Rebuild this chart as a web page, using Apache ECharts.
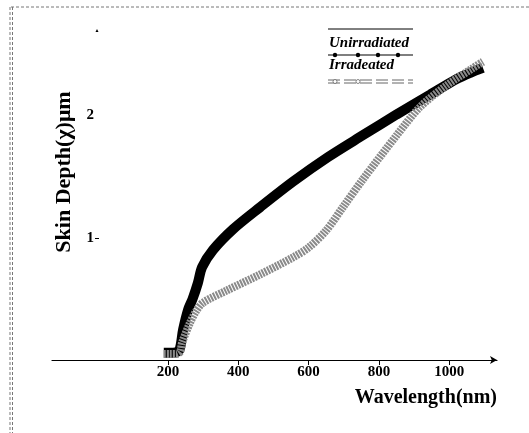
<!DOCTYPE html>
<html>
<head>
<meta charset="utf-8">
<script src="https://cdn.jsdelivr.net/npm/echarts@6/dist/echarts.min.js"></script>
<style>html,body{margin:0;padding:0;background:#fff;}#c{width:529px;height:433px;}</style>
</head>
<body>
<div id="c"></div>
<script>
// Data
const xTicks = [200, 400, 600, 800, 1000];
const yTicks = [1, 2];
const unirradiatedX = [188, 200, 215, 232, 243, 257, 270, 285, 297, 328, 385, 462, 556, 655, 755, 851, 945, 1022, 1060, 1096];
const unirradiatedY = [0.06, 0.06, 0.06, 0.08, 0.25, 0.41, 0.50, 0.63, 0.76, 0.90, 1.07, 1.25, 1.46, 1.66, 1.84, 2.01, 2.17, 2.30, 2.35, 2.39];
const irradiatedX = [188, 205, 225, 235, 240, 262, 280, 300, 368, 462, 556, 600, 650, 700, 755, 851, 917, 994, 1068, 1096];
const irradiatedY = [0.05, 0.05, 0.05, 0.07, 0.14, 0.30, 0.40, 0.47, 0.57, 0.70, 0.84, 0.92, 1.06, 1.26, 1.48, 1.84, 2.07, 2.25, 2.39, 2.44];
const seriesNames = ['Unirradiated', 'Irradeated'];

const zip = (xs, ys) => xs.map((x, i) => [x, ys[i]]);
const serif = 'Liberation Serif';

const chart = echarts.init(document.getElementById('c'), null, {renderer: 'canvas'});
chart.setOption({
  animation: false,
  backgroundColor: '#fff',
  grid: {left: 52, right: 32, top: 30, bottom: 73},
  xAxis: {
    type: 'value', min: -130, max: 1136,
    name: 'Wavelength(nm)', nameLocation: 'end', nameGap: 0,
    nameTextStyle: {fontFamily: serif, fontWeight: 'bold', fontSize: 20, color: '#000', align: 'right', verticalAlign: 'top', padding: [28, 0, 0, 0]},
    axisLine: {show: true, lineStyle: {color: '#000', width: 1.2}, symbol: ['none', 'arrow'], symbolSize: [6, 7]},
    axisTick: {show: true, length: 5, customValues: xTicks, lineStyle: {color: '#000'}},
    axisLabel: {customValues: xTicks, formatter: v => String(v), fontFamily: serif, fontWeight: 'bold', fontSize: 15, color: '#000', margin: 5},
    splitLine: {show: false}
  },
  yAxis: {
    type: 'value', min: 0, max: 2.7, offset: -47,
    name: 'Skin Depth(χ)μm', nameLocation: 'middle', nameGap: 24, nameRotate: 90,
    nameTextStyle: {fontFamily: serif, fontWeight: 'bold', fontSize: 22, color: '#000', padding: [0, 0, 0, 46]},
    axisLine: {show: false},
    axisTick: {show: true, length: 4, customValues: [1], lineStyle: {color: '#000'}},
    axisLabel: {customValues: yTicks, formatter: v => String(v), fontFamily: serif, fontWeight: 'bold', fontSize: 15, color: '#000', margin: 5},
    splitLine: {show: false}
  },
  series: [
    {
      name: seriesNames[1], type: 'line', smooth: 0.3, showSymbol: false,
      data: zip(irradiatedX, irradiatedY),
      lineStyle: {color: '#8a8a8a', width: 8, type: [2, 1]}, z: 3
    },
    {
      name: seriesNames[0], type: 'line', smooth: 0.3, showSymbol: false,
      data: zip(unirradiatedX, unirradiatedY),
      lineStyle: {color: '#000', width: 10}, z: 2
    }
  ],
  graphic: [
    // dashed frame
    {type: 'line', shape: {x1: 11, y1: 7, x2: 529, y2: 7}, style: {stroke: '#777', lineWidth: 1, lineDash: [3, 2]}, silent: true},
    {type: 'line', shape: {x1: 10, y1: 7, x2: 10, y2: 433}, style: {stroke: '#777', lineWidth: 1, lineDash: [3, 2]}, silent: true},
    {type: 'line', shape: {x1: 12.5, y1: 7, x2: 12.5, y2: 433}, style: {stroke: '#777', lineWidth: 1, lineDash: [3, 2]}, silent: true},
    // y axis tiny arrow tip
    {type: 'polygon', shape: {points: [[97, 29], [95.5, 32], [98.5, 32]]}, style: {fill: '#000'}, silent: true},
    // legend
    {type: 'line', shape: {x1: 328, y1: 29, x2: 413, y2: 29}, style: {stroke: '#000', lineWidth: 1}, silent: true},
    {type: 'text', x: 329, y: 43, style: {text: seriesNames[0], font: 'italic bold 15px "Liberation Serif"', fill: '#000', textVerticalAlign: 'middle'}, silent: true},
    {type: 'line', shape: {x1: 328, y1: 55, x2: 413, y2: 55}, style: {stroke: '#000', lineWidth: 1.2}, silent: true},
    {type: 'circle', shape: {cx: 335, cy: 55, r: 2.2}, style: {fill: '#000'}, silent: true},
    {type: 'circle', shape: {cx: 358, cy: 55, r: 2.2}, style: {fill: '#000'}, silent: true},
    {type: 'circle', shape: {cx: 378, cy: 55, r: 2.2}, style: {fill: '#000'}, silent: true},
    {type: 'circle', shape: {cx: 398, cy: 55, r: 2.2}, style: {fill: '#000'}, silent: true},
    {type: 'text', x: 329, y: 65, style: {text: seriesNames[1], font: 'italic bold 15px "Liberation Serif"', fill: '#000', textVerticalAlign: 'middle'}, silent: true},
    {type: 'line', shape: {x1: 328, y1: 80, x2: 413, y2: 80}, style: {stroke: '#666', lineWidth: 1, lineDash: [12, 4]}, silent: true},
    {type: 'line', shape: {x1: 328, y1: 83, x2: 413, y2: 83}, style: {stroke: '#666', lineWidth: 1, lineDash: [12, 4]}, silent: true},
    {type: 'circle', shape: {cx: 335, cy: 81.5, r: 2}, style: {fill: '#fff', stroke: '#666', lineWidth: 0.8}, silent: true},
    {type: 'circle', shape: {cx: 358, cy: 81.5, r: 2}, style: {fill: '#fff', stroke: '#666', lineWidth: 0.8}, silent: true}
  ]
});
</script>
</body>
</html>
